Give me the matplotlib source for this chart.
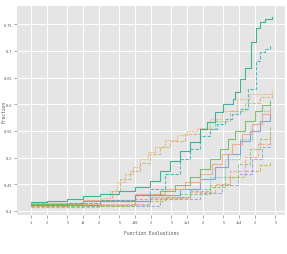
import numpy as np
import matplotlib
matplotlib.use("Agg")
import matplotlib.pyplot as plt

# step curves: function evaluations vs fraction solved
teal_x = [1, 2, 4.9, 10, 21, 50, 100, 195, 300, 470, 735, 1150, 1780, 2400, 3450, 4900, 7700, 8450, 10600, 13000, 17000, 21000, 25500, 32000, 43000]
teal_y = [0.417, 0.419, 0.422, 0.428, 0.432, 0.437, 0.445, 0.456, 0.475, 0.494, 0.512, 0.529, 0.554, 0.567, 0.585, 0.600, 0.610, 0.623, 0.647, 0.668, 0.717, 0.743, 0.754, 0.760, 0.763]

tealdash_x = [1, 4.9, 21, 100, 195, 380, 735, 1150, 1780, 2800, 3800, 5400, 7300, 10600, 14800, 21000, 25500, 32000, 40000]
tealdash_y = [0.411, 0.415, 0.421, 0.430, 0.441, 0.469, 0.497, 0.516, 0.540, 0.554, 0.563, 0.572, 0.582, 0.591, 0.628, 0.681, 0.698, 0.703, 0.713]

orange_x = [1, 4.9, 21, 33, 45, 64, 91, 124, 177, 242, 376, 640, 1000, 1560, 2770, 4700, 9200, 16200, 43000]
orange_y = [0.409, 0.413, 0.424, 0.437, 0.454, 0.469, 0.482, 0.497, 0.511, 0.520, 0.533, 0.542, 0.550, 0.555, 0.572, 0.587, 0.610, 0.619, 0.628]

khaki_x = [1, 21, 36, 51.5, 80, 124, 195, 302, 470, 915, 1780, 3450, 6700, 13000, 25300, 43000]
khaki_y = [0.407, 0.421, 0.437, 0.460, 0.475, 0.490, 0.507, 0.520, 0.531, 0.544, 0.554, 0.569, 0.587, 0.602, 0.614, 0.621]

green_x = [1, 10, 100, 302, 590, 1150, 1780, 2770, 4300, 6100, 8400, 13000, 20300, 27700, 39500]
green_y = [0.413, 0.419, 0.430, 0.437, 0.449, 0.464, 0.479, 0.497, 0.516, 0.535, 0.550, 0.569, 0.587, 0.598, 0.606]

salmon_x = [1, 10, 100, 376, 915, 1780, 3030, 4700, 7330, 11400, 17800, 27700, 39500]
salmon_y = [0.415, 0.421, 0.432, 0.441, 0.454, 0.469, 0.488, 0.507, 0.525, 0.544, 0.563, 0.582, 0.591]

blue_x = [1, 21, 195, 735, 1780, 3450, 6100, 10600, 16200, 25300, 39500]
blue_y = [0.411, 0.419, 0.430, 0.441, 0.460, 0.482, 0.507, 0.531, 0.550, 0.569, 0.582]

cyan_x = [1, 195, 1150, 2770, 5400, 10600, 17800, 27700, 39500]
cyan_y = [0.411, 0.426, 0.441, 0.464, 0.497, 0.535, 0.563, 0.587, 0.600]

greendash_x = [1, 100, 735, 2770, 5400, 9570, 16200, 25300, 39500]
greendash_y = [0.409, 0.422, 0.432, 0.445, 0.464, 0.488, 0.516, 0.535, 0.557]

salmondash_x = [1, 195, 1150, 3450, 6700, 13000, 23200, 39500]
salmondash_y = [0.413, 0.424, 0.436, 0.451, 0.475, 0.501, 0.525, 0.544]

bluedash_x = [1, 302, 1780, 4700, 9570, 17800, 27700, 39500]
bluedash_y = [0.409, 0.422, 0.434, 0.449, 0.469, 0.497, 0.520, 0.535]

olive_x = [1, 10, 100, 376, 1150, 2770, 6700, 13000, 25300, 39500]
olive_y = [0.407, 0.411, 0.419, 0.426, 0.437, 0.449, 0.464, 0.475, 0.486, 0.492]

x_ticks = [1, 2, 5, 10, 20, 50, 100, 200, 500, 1000, 2000, 5000, 10000, 20000, 50000]
x_labels = ["1", "2", "5", "10", "2", "5", "100", "2", "5", "1e3", "2", "5", "1e4", "2", "5"]
y_ticks = [0.4, 0.45, 0.5, 0.55, 0.6, 0.65, 0.7, 0.75]
y_labels = ["0.4", "0.45", "0.5", "0.55", "0.6", "0.65", "0.7", "0.75"]

series = [
    (olive_x, olive_y, "#c9b43e", (0, (3, 1.5))),
    (bluedash_x, bluedash_y, "#8ea6d6", (0, (3, 1.5))),
    (salmondash_x, salmondash_y, "#f2a58e", (0, (3, 1.5))),
    (greendash_x, greendash_y, "#8cc36c", (0, (3, 1.5))),
    (cyan_x, cyan_y, "#5cc2cc", (0, (1, 1))),
    (blue_x, blue_y, "#7b9bd0", "-"),
    (salmon_x, salmon_y, "#f3a488", "-"),
    (green_x, green_y, "#74b55c", "-"),
    (khaki_x, khaki_y, "#c8b872", (0, (3, 1.5))),
    (orange_x, orange_y, "#f0a860", (0, (1, 1))),
    (tealdash_x, tealdash_y, "#35b3bd", (0, (3, 1.5))),
    (teal_x, teal_y, "#2aa68a", "-"),
]

fig = plt.figure(figsize=(2.87, 2.55), dpi=100)
ax = fig.add_axes([17 / 287, 1 - 216 / 255, 268 / 287, 209 / 255])
ax.set_facecolor("#e5e5e5")

for xs, ys, col, ls in series:
    ax.step(xs, ys, where="post", color=col, linestyle=ls, linewidth=0.8, alpha=0.85)

ax.set_xscale("log")
ax.set_xlim(0.538, 76700)
ax.set_ylim(0.3925, 0.784)
ax.set_xticks(x_ticks)
ax.set_xticklabels(x_labels)
ax.xaxis.set_minor_locator(matplotlib.ticker.NullLocator())
ax.set_yticks(y_ticks)
ax.set_yticklabels(y_labels)

ax.grid(True, color="white", linewidth=0.7)
ax.set_axisbelow(True)
for s in ax.spines.values():
    s.set_visible(False)

ax.tick_params(length=2, width=0.4, color="#666666", labelsize=2.6,
               labelcolor="#555555", pad=1.5)
for lab in ax.get_xticklabels() + ax.get_yticklabels():
    lab.set_family("DejaVu Sans Mono")

fig.text(151 / 287, 1 - 234 / 255, "Function Evaluations", family="DejaVu Sans Mono",
         fontsize=3.3, color="#555555", ha="center", va="center")
fig.text(4 / 287, 1 - 112 / 255, "Fraction", family="DejaVu Sans Mono",
         fontsize=3.3, color="#555555", ha="center", va="center", rotation=90)

fig.savefig("out.png", dpi=100)
